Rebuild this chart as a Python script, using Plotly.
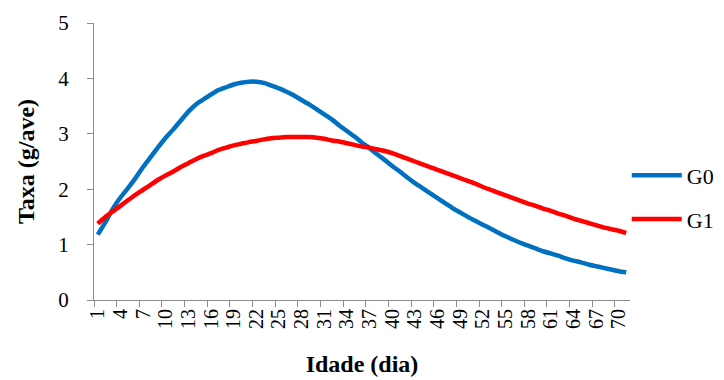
import plotly.graph_objects as go

days = list(range(1, 72))
g0 = [1.18, 1.40, 1.65, 1.85, 2.02, 2.20, 2.40, 2.58, 2.76, 2.93,
      3.08, 3.24, 3.40, 3.53, 3.62, 3.71, 3.79, 3.84, 3.89, 3.92,
      3.94, 3.94, 3.92, 3.87, 3.82, 3.76, 3.69, 3.61, 3.53, 3.44,
      3.35, 3.26, 3.15, 3.05, 2.95, 2.84, 2.74, 2.63, 2.53, 2.42,
      2.32, 2.21, 2.11, 2.02, 1.93, 1.84, 1.75, 1.66, 1.58, 1.50,
      1.43, 1.36, 1.29, 1.22, 1.15, 1.09, 1.03, 0.98, 0.93, 0.88,
      0.84, 0.80, 0.75, 0.71, 0.68, 0.64, 0.61, 0.58, 0.55, 0.52, 0.50]
g1 = [1.38, 1.50, 1.60, 1.70, 1.80, 1.90, 1.99, 2.08, 2.17, 2.25,
      2.32, 2.40, 2.47, 2.54, 2.60, 2.65, 2.71, 2.75, 2.79, 2.82,
      2.85, 2.87, 2.90, 2.92, 2.93, 2.94, 2.94, 2.94, 2.94, 2.93,
      2.91, 2.88, 2.86, 2.83, 2.80, 2.77, 2.75, 2.72, 2.69, 2.65,
      2.60, 2.55, 2.50, 2.45, 2.40, 2.35, 2.30, 2.25, 2.20, 2.15,
      2.10, 2.04, 1.99, 1.94, 1.89, 1.84, 1.79, 1.74, 1.70, 1.65,
      1.61, 1.56, 1.52, 1.47, 1.43, 1.39, 1.35, 1.31, 1.28, 1.25, 1.21]
series_names = ["G0", "G1"]
colors = ["#0070C0", "#FF0000"]
tick_days = days[::3]
tick_labels = [str(d) for d in tick_days]
boundaries = [d - 0.5 for d in tick_days]

FONT = "Liberation Serif"
fig = go.Figure()
for name, vals, col, grp in zip(series_names, [g0, g1], colors, ["a", "b"]):
    fig.add_trace(go.Scatter(x=days, y=vals, mode="lines", name=name,
                             legendgroup=grp,
                             line=dict(color=col, width=4.5, shape="spline",
                                       smoothing=0.6)))

fig.update_layout(
    width=724, height=380,
    margin=dict(l=86, r=102, t=15, b=88, autoexpand=False),
    paper_bgcolor="white", plot_bgcolor="white",
    font=dict(family=FONT, size=20, color="black"),
    legend=dict(x=0.994, y=0.37, xanchor="left", yanchor="middle",
                font=dict(family=FONT, size=22, color="black"),
                tracegroupgap=12, itemwidth=50, bgcolor="rgba(0,0,0,0)"),
    xaxis=dict(range=[0.5, 71.5], tickmode="array", tickvals=tick_days,
               ticktext=tick_labels, tickangle=-90, ticks="",
               automargin=False,
               tickfont=dict(family=FONT, size=20, color="black"),
               showline=True, linecolor="#8c8c8c", linewidth=1,
               showgrid=False, zeroline=False,
               minor=dict(tickmode="array", tickvals=boundaries,
                          ticks="outside", ticklen=6, tickcolor="#8c8c8c",
                          showgrid=False),
               title=dict(text="<b>Idade (dia)</b>", standoff=27,
                          font=dict(family=FONT, size=24))),
    yaxis=dict(range=[0, 5], tickvals=[0, 1, 2, 3, 4, 5], ticks="outside",
               ticklen=6, tickcolor="#8c8c8c", automargin=False,
               ticklabelstandoff=14,
               tickfont=dict(family=FONT, size=21, color="black"),
               showline=True, linecolor="#8c8c8c", linewidth=1,
               showgrid=False, zeroline=False,
               title=dict(text="<b>Taxa (g/ave)</b>", standoff=16,
                          font=dict(family=FONT, size=24))),
)
fig.write_html("out.html")
